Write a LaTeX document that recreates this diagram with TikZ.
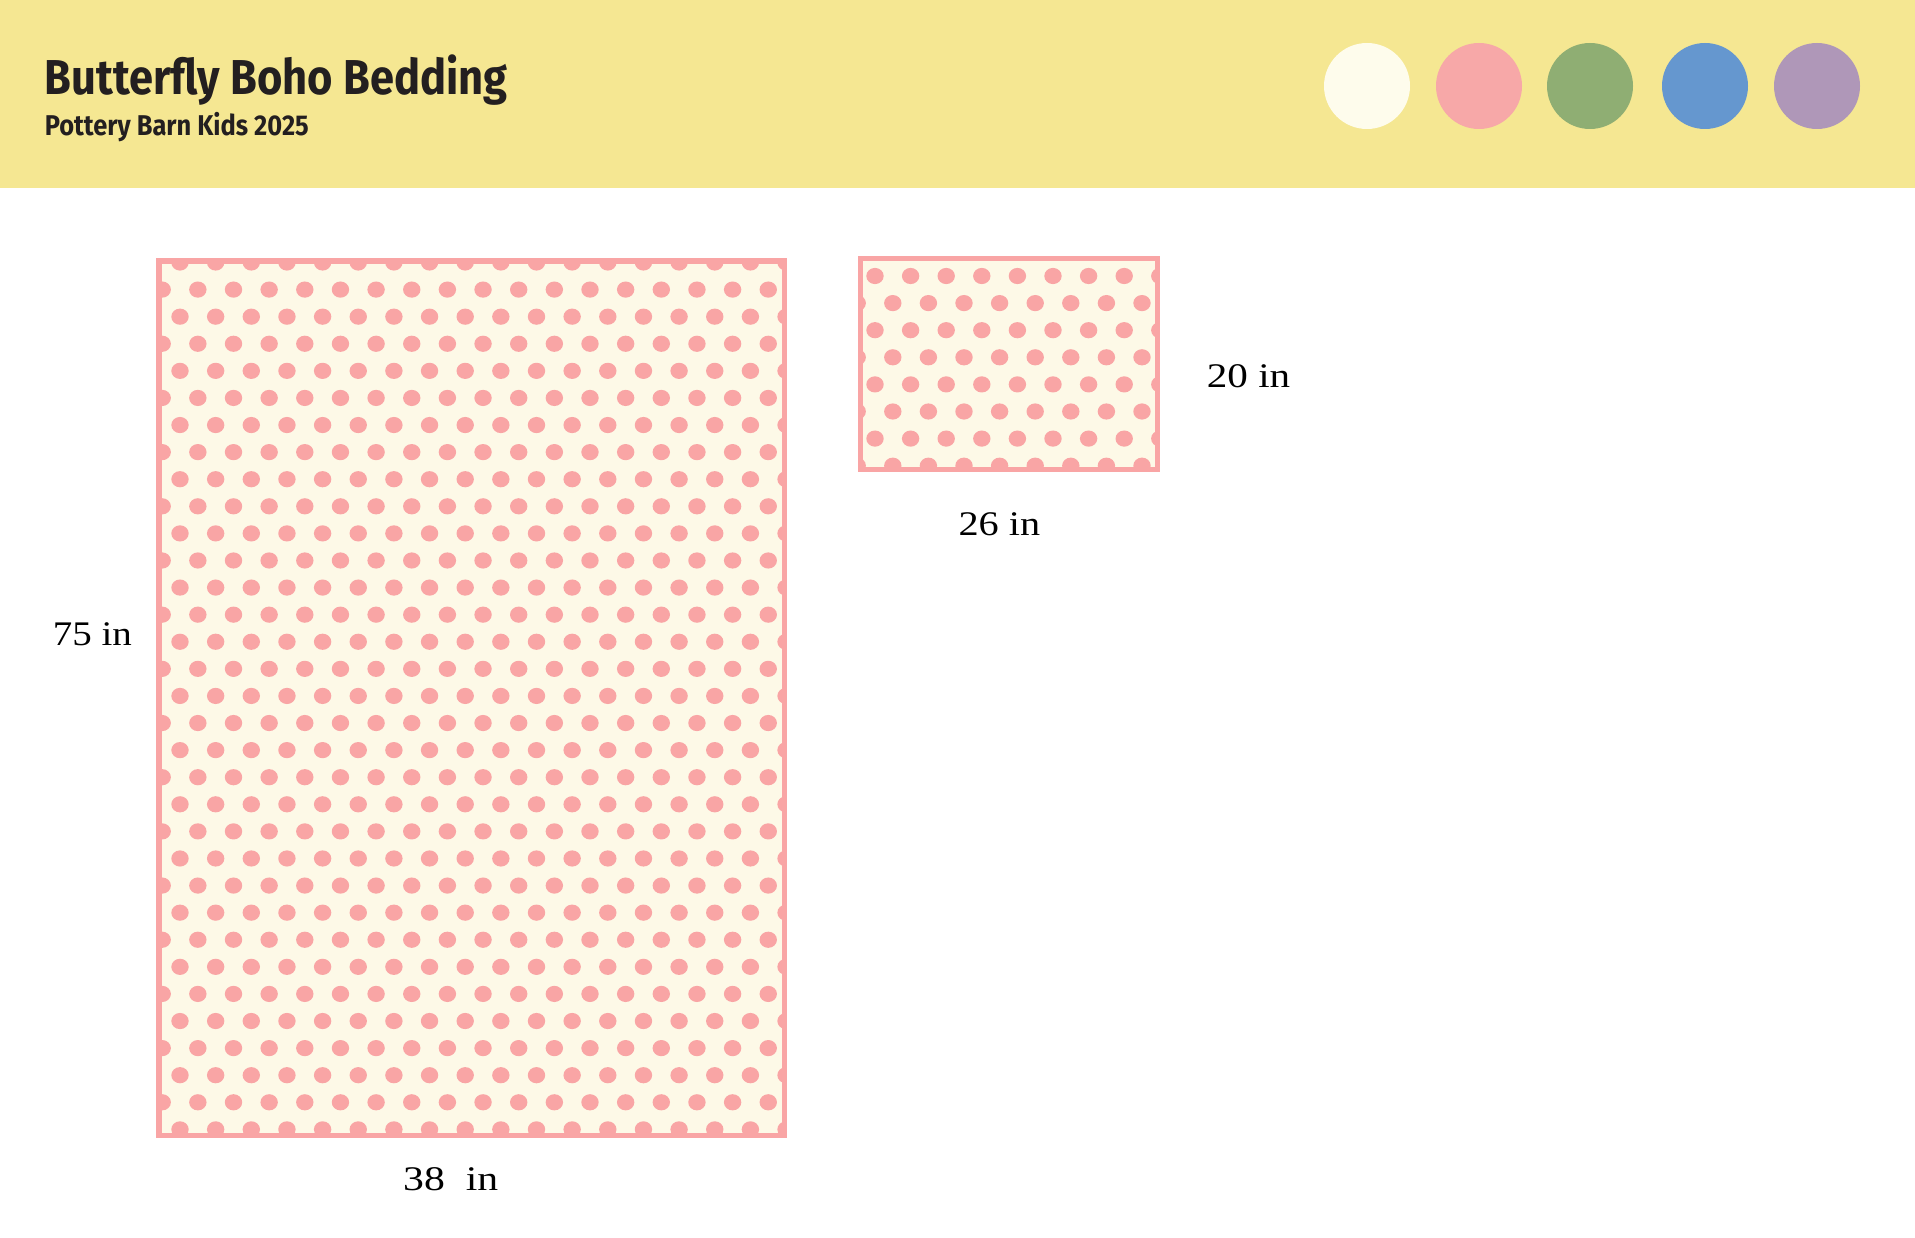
\documentclass[tikz,border=0pt]{standalone}
\usepackage{fontspec}
\usepackage{graphicx}
\newfontfamily\titlefont{Fira Sans}
\newfontfamily\labfont{Liberation Serif}
\definecolor{headerY}{HTML}{F5E792}
\definecolor{swCream}{HTML}{FEFCEC}
\definecolor{swPink}{HTML}{F7A8A8}
\definecolor{swGreen}{HTML}{8FAE73}
\definecolor{swBlue}{HTML}{6597CF}
\definecolor{swPurple}{HTML}{AF97B8}
\definecolor{fabric}{HTML}{FDF9E7}
\definecolor{dotpink}{HTML}{F9A5A5}
\definecolor{ink}{HTML}{231F20}
\tikzset{
  swatch/.style={circle, minimum size=86pt, inner sep=0pt, fill=#1},
  dimlabel/.style={anchor=base west, inner sep=0pt, text=black},
  panelborder/.style={draw=dotpink, line width=5.5pt},
  polka/.style={fill=dotpink}
}
\newcommand{\labtxt}[2]{\resizebox{#1}{\height}{\labfont\fontsize{34.5}{40}\selectfont #2}}
\begin{document}
\begin{tikzpicture}[x=1pt,y=-1pt]
\useasboundingbox (0,0) rectangle (1915,1238);
\fill[white] (0,0) rectangle (1915,1238);
% header
\fill[headerY] (0,0) rectangle (1915,188);
\node[anchor=base west, inner sep=0pt, text=ink] (title) at (44.6,94.3)
  {\resizebox{463pt}{\height}{\titlefont\bfseries\fontsize{49}{55}\selectfont Butterfly Boho Bedding}};
\node[anchor=base west, inner sep=0pt, text=ink] (subtitle) at (44.6,135.7)
  {\resizebox{264pt}{\height}{\titlefont\bfseries\fontsize{28.6}{32}\selectfont Pottery Barn Kids 2025}};
\node[swatch=swCream]  (c1) at (1367,86) {};
\node[swatch=swPink]   (c2) at (1479,86) {};
\node[swatch=swGreen]  (c3) at (1590,86) {};
\node[swatch=swBlue]   (c4) at (1705,86) {};
\node[swatch=swPurple] (c5) at (1817,86) {};
% big panel
\begin{scope}
  \clip (159,261) rectangle (784.5,1135.5);
  \fill[fabric] (159,261) rectangle (784.5,1135.5);
  \foreach \k in {0,...,32}{
    \pgfmathsetmacro{\yy}{262.5+27.09*\k}
    \pgfmathsetmacro{\xo}{mod(\k,2)==0 ? 180 : 162.2}
    \foreach \j in {0,...,17}{
      \fill[polka] (\xo+35.65*\j,\yy) ellipse [x radius=8.7pt, y radius=8.1pt];
    }
  }
\end{scope}
\draw[panelborder] (159,261) rectangle (784.5,1135.5);
% small panel
\begin{scope}
  \clip (860.5,258.5) rectangle (1157.5,469.5);
  \fill[fabric] (860.5,258.5) rectangle (1157.5,469.5);
  \foreach \k in {0,...,7}{
    \pgfmathsetmacro{\yy}{276+27.1*\k}
    \pgfmathsetmacro{\xo}{mod(\k,2)==0 ? 875 : 857.2}
    \foreach \j in {0,...,8}{
      \fill[polka] (\xo+35.6*\j,\yy) ellipse [x radius=8.7pt, y radius=8.1pt];
    }
  }
\end{scope}
\draw[panelborder] (860.5,258.5) rectangle (1157.5,469.5);
% dimension labels
\node[dimlabel] (h1) at (52.7,645) {\labtxt{79pt}{75 in}};
\node[dimlabel] (w1) at (403,1190) {\labtxt{95pt}{38~~in}};
\node[dimlabel] (h2) at (1206.7,387.7) {\labtxt{83.3pt}{20 in}};
\node[dimlabel] (w2) at (958.3,535) {\labtxt{81.7pt}{26 in}};
\end{tikzpicture}
\end{document}
